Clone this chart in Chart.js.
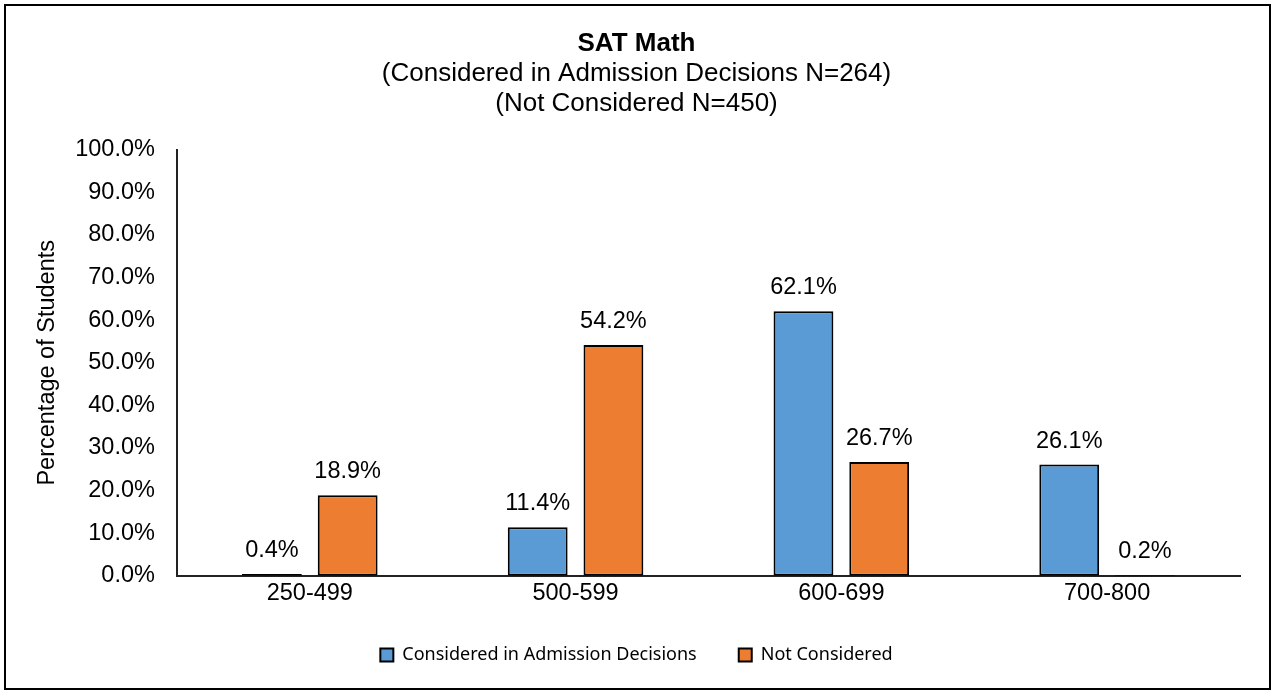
<!DOCTYPE html>
<html>
<head>
<meta charset="utf-8">
<script src="https://cdn.jsdelivr.net/npm/chart.js@4/dist/chart.umd.min.js"></script>
<style>
  html, body { margin: 0; padding: 0; background: #fff; }
  #frame {
    position: absolute; left: 4px; top: 4px;
    width: 1263px; height: 682px;
    border: 2px solid #000;
  }
  #wrap { position: relative; width: 1263px; height: 682px; }
</style>
</head>
<body>
<div id="frame"><div id="wrap"><canvas id="chart"></canvas></div></div>
<script>
const categories = ['250-499', '500-599', '600-699', '700-800'];
const considered = [0.4, 11.4, 62.1, 26.1];
const notConsidered = [18.9, 54.2, 26.7, 0.2];
const seriesNames = ['Considered in Admission Decisions', 'Not Considered'];

const arial = "'Liberation Sans', Arial, sans-serif";

// value label above each bar
const barLabels = {
  id: 'barLabels',
  afterDatasetsDraw(chart) {
    const ctx = chart.ctx;
    ctx.save();
    ctx.font = '23.5px ' + arial;
    ctx.fillStyle = '#000';
    ctx.textAlign = 'center';
    ctx.textBaseline = 'alphabetic';
    chart.data.datasets.forEach((ds, i) => {
      chart.getDatasetMeta(i).data.forEach((bar, j) => {
        ctx.fillText(ds.data[j].toFixed(1) + '%', bar.x, bar.y - 17);
      });
    });
    ctx.restore();
  }
};

new Chart(document.getElementById('chart'), {
  type: 'bar',
  data: {
    labels: categories,
    datasets: [
      {
        label: seriesNames[0],
        data: considered,
        backgroundColor: '#5b9bd5',
        borderColor: '#000',
        borderWidth: 2,
        borderSkipped: false,
        categoryPercentage: 0.57,
        barPercentage: 0.79
      },
      {
        label: seriesNames[1],
        data: notConsidered,
        backgroundColor: '#ed7d31',
        borderColor: '#000',
        borderWidth: 2,
        borderSkipped: false,
        categoryPercentage: 0.57,
        barPercentage: 0.79
      }
    ]
  },
  options: {
    responsive: true,
    maintainAspectRatio: false,
    animation: false,
    layout: { padding: { left: 27, right: 29, top: 0, bottom: 14 } },
    plugins: {
      title: {
        display: true,
        text: 'SAT Math',
        color: '#000',
        font: { family: arial, size: 26, weight: 'bold', lineHeight: 1 },
        padding: { top: 25, bottom: 0 }
      },
      subtitle: {
        display: true,
        text: ['(Considered in Admission Decisions N=264)', '(Not Considered N=450)'],
        color: '#000',
        font: { family: arial, size: 26, lineHeight: 1.15 },
        padding: { top: 2, bottom: 31 }
      },
      legend: {
        position: 'bottom',
        labels: {
          color: '#000',
          font: { family: "'Noto Sans', sans-serif", size: 18 },
          boxWidth: 13,
          boxHeight: 13,
          padding: 42,
          useBorderRadius: false
        }
      },
      tooltip: { enabled: false }
    },
    scales: {
      x: {
        grid: { display: false },
        border: { display: true, color: '#222', width: 2 },
        ticks: { color: '#000', font: { family: arial, size: 23.5 }, padding: -4 }
      },
      y: {
        min: 0,
        max: 100,
        grid: { display: false },
        border: { display: true, color: '#222', width: 2 },
        ticks: {
          stepSize: 10,
          color: '#000',
          font: { family: arial, size: 23.5 },
          padding: 14,
          callback: v => v.toFixed(1) + '%'
        },
        title: {
          display: true,
          text: 'Percentage of Students',
          color: '#000',
          font: { family: arial, size: 23.5 },
          padding: { top: 0, bottom: 0 }
        }
      }
    }
  },
  plugins: [barLabels]
});
</script>
</body>
</html>
